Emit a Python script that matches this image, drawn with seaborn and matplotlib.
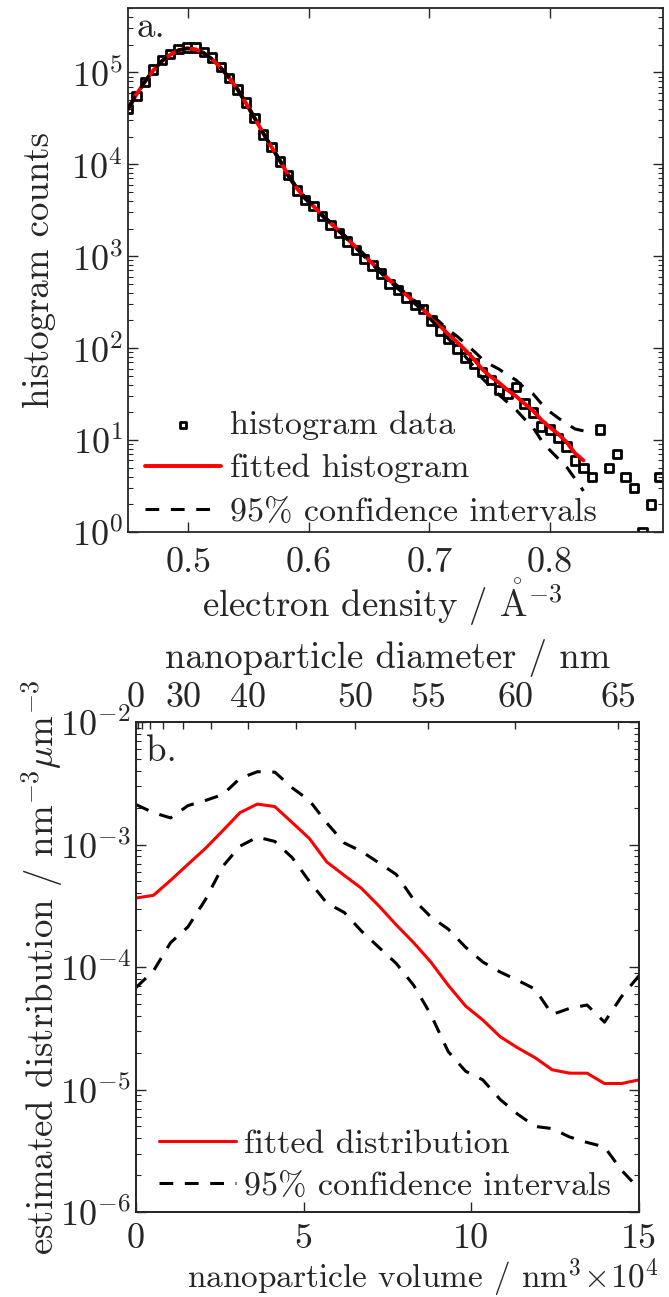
import numpy as np
import pandas as pd
import matplotlib
matplotlib.use("Agg")
import matplotlib.pyplot as plt
import seaborn as sns

# ---- panel a: electron density histogram ----
density = [0.450, 0.457, 0.464, 0.471, 0.478, 0.485, 0.492, 0.499, 0.506, 0.513,
           0.520, 0.527, 0.534, 0.541, 0.548, 0.555, 0.562, 0.569, 0.576, 0.583,
           0.590, 0.597, 0.604, 0.611, 0.618, 0.625, 0.632, 0.639, 0.646, 0.653,
           0.660, 0.667, 0.674, 0.681, 0.688, 0.695, 0.702, 0.709, 0.716, 0.723,
           0.730, 0.737, 0.744, 0.751, 0.758, 0.765, 0.772, 0.779, 0.786, 0.793,
           0.800, 0.807, 0.814, 0.821, 0.828, 0.835, 0.842, 0.849, 0.856, 0.863,
           0.870, 0.877, 0.884, 0.891]
hist_counts = [4.0e4, 5.5e4, 7.8e4, 1.07e5, 1.35e5, 1.58e5, 1.78e5, 1.86e5, 1.86e5, 1.66e5,
               1.45e5, 1.15e5, 8.7e4, 6.5e4, 4.7e4, 3.2e4, 2.1e4, 1.55e4, 1.07e4, 7.6e3,
               5.2e3, 4.1e3, 3.5e3, 2.75e3, 2.2e3, 1.78e3, 1.45e3, 1.17e3, 930, 790,
               650, 500, 430, 355, 295, 265, 200, 155, 126, 98,
               79, 68, 55, 45, 35, 32, 38, 25, 20, 14,
               13, 10.5, 8.5, 6, 5, 4, 13, 5, 7, 4,
               3, 1, 2, 4]

fit_density = density[:55]
fit_counts = [4.0e4, 5.75e4, 7.9e4, 1.05e5, 1.32e5, 1.55e5, 1.74e5, 1.82e5, 1.78e5, 1.62e5,
              1.38e5, 1.12e5, 8.7e4, 6.5e4, 4.6e4, 3.2e4, 2.2e4, 1.55e4, 1.1e4, 7.6e3,
              5.5e3, 4.3e3, 3.5e3, 2.8e3, 2.3e3, 1.9e3, 1.55e3, 1.26e3, 1.02e3, 830,
              675, 550, 457, 380, 316, 263, 214, 174, 141, 117,
              95, 76, 59, 49, 42, 35, 30, 25, 21, 16.6,
              13.8, 11.7, 9.5, 7.2, 6.0]
ci_upper_a = [4.1e4, 5.85e4, 8.0e4, 1.06e5, 1.33e5, 1.56e5, 1.75e5, 1.83e5, 1.79e5, 1.63e5,
              1.39e5, 1.13e5, 8.8e4, 6.6e4, 4.7e4, 3.25e4, 2.23e4, 1.57e4, 1.12e4, 7.8e3,
              5.6e3, 4.4e3, 3.6e3, 2.85e3, 2.35e3, 1.94e3, 1.58e3, 1.29e3, 1.05e3, 850,
              695, 568, 472, 389, 327, 275, 229, 191, 158, 135,
              112, 93, 76, 66, 59, 51, 45, 37, 32, 25,
              20.4, 17.4, 15.1, 13.2, 12.6]
ci_lower_a = [3.9e4, 5.65e4, 7.8e4, 1.04e5, 1.31e5, 1.54e5, 1.73e5, 1.81e5, 1.77e5, 1.61e5,
              1.37e5, 1.11e5, 8.6e4, 6.4e4, 4.5e4, 3.15e4, 2.17e4, 1.53e4, 1.08e4, 7.4e3,
              5.4e3, 4.2e3, 3.4e3, 2.75e3, 2.25e3, 1.86e3, 1.52e3, 1.23e3, 990, 810,
              655, 532, 442, 372, 305, 251, 200, 158, 126, 102,
              81, 63, 47, 38, 31, 25.7, 21.4, 17, 13.8, 10,
              7.8, 6.3, 5.1, 3.8, 2.8]

# ---- panel b: nanoparticle volume distribution (volume in 1e4 nm^3) ----
volume = [0, 0.52, 1.03, 1.55, 2.07, 2.59, 3.10, 3.62, 4.14, 4.66,
          5.17, 5.69, 6.21, 6.72, 7.24, 7.76, 8.28, 8.79, 9.31, 9.83,
          10.34, 10.86, 11.38, 11.90, 12.41, 12.93, 13.45, 13.97, 14.48, 15.0]
fit_dist = [3.66e-4, 3.85e-4, 5.1e-4, 6.9e-4, 9.3e-4, 1.30e-3, 1.82e-3, 2.14e-3, 2.04e-3, 1.51e-3,
            1.12e-3, 7.2e-4, 5.6e-4, 4.4e-4, 3.16e-4, 2.21e-4, 1.58e-4, 1.10e-4, 7.1e-5, 4.8e-5,
            3.7e-5, 2.7e-5, 2.19e-5, 1.82e-5, 1.45e-5, 1.36e-5, 1.36e-5, 1.12e-5, 1.12e-5, 1.20e-5]
ci_upper_b = [2.12e-3, 1.82e-3, 1.65e-3, 2.08e-3, 2.29e-3, 2.56e-3, 3.47e-3, 3.93e-3, 3.90e-3, 2.90e-3,
              2.29e-3, 1.50e-3, 1.03e-3, 8.8e-4, 7.1e-4, 5.7e-4, 3.55e-4, 2.57e-4, 2.04e-4, 1.45e-4,
              1.10e-4, 9.1e-5, 7.8e-5, 6.6e-5, 4.1e-5, 4.6e-5, 4.9e-5, 3.55e-5, 5.75e-5, 8.5e-5]
ci_lower_b = [6.8e-5, 9.3e-5, 1.58e-4, 2.13e-4, 3.55e-4, 6.65e-4, 9.7e-4, 1.15e-3, 1.06e-3, 7.8e-4,
              5.0e-4, 3.33e-4, 2.79e-4, 1.97e-4, 1.45e-4, 1.07e-4, 7.1e-5, 4.1e-5, 2.04e-5, 1.41e-5,
              1.20e-5, 8.3e-6, 6.3e-6, 5.0e-6, 4.8e-6, 4.1e-6, 3.7e-6, 3.4e-6, 2.19e-6, 1.55e-6]

diam_ticks = [0, 5, 10, 15, 20, 25, 30, 35, 40, 45, 50, 55, 60, 65]
diam_labeled = [0, 30, 40, 50, 55, 60, 65]

sns.set_theme(style="ticks")
plt.rcParams["font.family"] = "serif"
plt.rcParams["font.serif"] = ["cmr10"]
plt.rcParams["mathtext.fontset"] = "cm"
plt.rcParams["axes.unicode_minus"] = False
plt.rcParams["axes.formatter.use_mathtext"] = True
plt.rcParams["axes.linewidth"] = 1.3
plt.rcParams["axes.edgecolor"] = "#262626"

TICK_FS = 26
LAB_FS = 26.5
LEG_FS = 24.5
LW = 2.2
DASH = (4.5, 3.8)

fig = plt.figure(figsize=(6.69, 12.97), dpi=100)
ax1 = fig.add_axes([0.1913, 0.5898, 0.7997, 0.4040])
ax2 = fig.add_axes([0.2033, 0.0655, 0.7519, 0.3778])

# panel a
dfa = pd.DataFrame({"x": density, "y": hist_counts})
dff = pd.DataFrame({"x": fit_density, "fit": fit_counts, "up": ci_upper_a, "lo": ci_lower_a})
sns.scatterplot(data=dfa, x="x", y="y", ax=ax1, marker="s", s=36,
                facecolor="none", edgecolor="black", linewidth=2.0,
                label="histogram data", zorder=2)
sns.lineplot(data=dff, x="x", y="fit", ax=ax1, color="red", linewidth=LW + 0.6,
             estimator=None, sort=False, label="fitted histogram", zorder=3)
sns.lineplot(data=dff, x="x", y="up", ax=ax1, color="black", linewidth=LW,
             estimator=None, sort=False, label="95% confidence intervals", zorder=4)
sns.lineplot(data=dff, x="x", y="lo", ax=ax1, color="black", linewidth=LW,
             estimator=None, sort=False, zorder=4)
for ln in ax1.lines[1:]:
    ln.set_dashes(DASH)
ax1.set_yscale("log")
ax1.set_xlim(0.45, 0.894)
ax1.set_ylim(1, 5e5)
ax1.set_xticks([0.5, 0.6, 0.7, 0.8])
ax1.set_xticklabels(["0.5", "0.6", "0.7", "0.8"])
ax1.set_xlabel(r"electron density / $\mathring{\mathrm{A}}^{-3}$", fontsize=LAB_FS)
ax1.xaxis.set_label_coords(0.475, -0.162)
ax1.xaxis.label.set_va("baseline")
ax1.set_ylabel("histogram counts", fontsize=LAB_FS)
ax1.yaxis.set_label_coords(-0.134, 0.5)
ax1.tick_params(which="both", direction="in", top=True, right=True, labelsize=TICK_FS,
                color="#262626")
ax1.tick_params(axis="x", pad=11)
ax1.tick_params(which="major", length=7, width=1.0)
ax1.tick_params(which="minor", length=3.5, width=0.8)
ax1.text(0.015, 0.995, "a.", transform=ax1.transAxes, va="top", ha="left", fontsize=LAB_FS)
ax1.legend(loc="lower left", bbox_to_anchor=(0.022, 0.0), frameon=False, fontsize=LEG_FS,
           handlelength=2.25, handletextpad=0.25, labelspacing=0.4, borderaxespad=0.0,
           borderpad=0.15, markerscale=0.8)

# panel b
dfb = pd.DataFrame({"v": volume, "fit": fit_dist, "up": ci_upper_b, "lo": ci_lower_b})
sns.lineplot(data=dfb, x="v", y="fit", ax=ax2, color="red", linewidth=LW,
             estimator=None, sort=False, label="fitted distribution", zorder=3)
sns.lineplot(data=dfb, x="v", y="up", ax=ax2, color="black", linewidth=LW,
             estimator=None, sort=False, label="95% confidence intervals", zorder=4)
sns.lineplot(data=dfb, x="v", y="lo", ax=ax2, color="black", linewidth=LW,
             estimator=None, sort=False, zorder=4)
for ln in ax2.lines[1:]:
    ln.set_dashes(DASH)
ax2.set_yscale("log")
ax2.set_xlim(0, 15)
ax2.set_ylim(1e-6, 1e-2)
ax2.set_xticks([0, 5, 10, 15])
ax2.set_xticklabels(["0", "5", "10", "15"])
ax2.set_xlabel(r"nanoparticle volume / nm$^3\!\times\!10^4$", fontsize=24)
ax2.xaxis.set_label_coords(0.57, -0.155)
ax2.xaxis.label.set_va("baseline")
ax2.set_ylabel(r"estimated distribution / nm$^{-3}\mu$m$^{-3}$", fontsize=LAB_FS)
ax2.yaxis.set_label_coords(-0.142, 0.5)
ax2.tick_params(which="both", direction="in", top=False, right=True, labelsize=TICK_FS,
                color="#262626")
ax2.tick_params(axis="x", pad=8)
ax2.tick_params(which="major", length=7, width=1.0)
ax2.tick_params(which="minor", length=3.5, width=0.8)
ax2.text(0.02, 0.975, "b.", transform=ax2.transAxes, va="top", ha="left", fontsize=LAB_FS)
ax2.legend(loc="lower left", bbox_to_anchor=(0.036, 0.012), frameon=False, fontsize=LEG_FS,
           handlelength=2.25, handletextpad=0.25, labelspacing=0.35, borderaxespad=0.0,
           borderpad=0.15)

# top axis: diameter in nm
top = ax2.twiny()
top.set_xlim(ax2.get_xlim())
tick_pos = [np.pi / 6 * d ** 3 / 1e4 for d in diam_ticks]
top.set_xticks(tick_pos)
top.set_xticklabels([str(d) if d in diam_labeled else "" for d in diam_ticks])
top.tick_params(direction="in", length=5, width=1.0, labelsize=TICK_FS, pad=6, color="#262626")
top.set_xlabel("nanoparticle diameter / nm", fontsize=LAB_FS, labelpad=10)

fig.savefig("out.png", dpi=100)
